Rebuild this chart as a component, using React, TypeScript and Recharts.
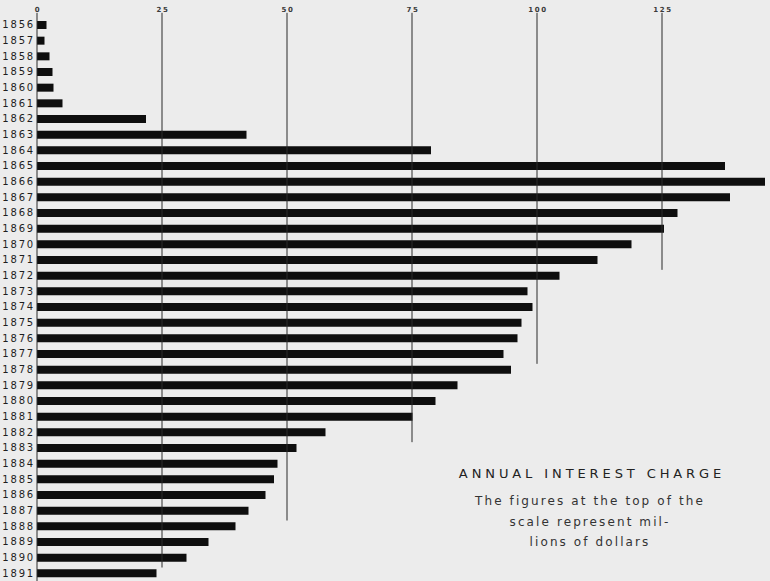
import React from 'react';
import { BarChart, Bar, XAxis, YAxis, ReferenceLine } from 'recharts';

const years = [
  '1856', '1857', '1858', '1859', '1860', '1861', '1862', '1863', '1864', '1865',
  '1866', '1867', '1868', '1869', '1870', '1871', '1872', '1873', '1874', '1875',
  '1876', '1877', '1878', '1879', '1880', '1881', '1882', '1883', '1884', '1885',
  '1886', '1887', '1888', '1889', '1890', '1891',
];
const interestCharge = [
  1.9, 1.5, 2.5, 3.1, 3.3, 5.1, 21.8, 41.9, 78.8, 137.6,
  145.6, 138.6, 128.1, 125.4, 118.9, 112.1, 104.5, 98.1, 99.1, 96.9,
  96.1, 93.3, 94.8, 84.1, 79.7, 75.1, 57.7, 51.9, 48.1, 47.4,
  45.7, 42.3, 39.7, 34.3, 29.9, 23.9,
];
const scaleTicks = [0, 25, 50, 75, 100, 125];
const scaleLineValues = [0, 25, 50, 75, 100, 125];
const scaleLineEnds = ['1891', '1890', '1887', '1882', '1877', '1871'];
const titleText = 'ANNUAL INTEREST CHARGE';
const noteLines = ['The figures at the top of the', 'scale represent mil-', 'lions of dollars'];

const data = years.map((y, i) => ({ year: y, value: interestCharge[i] }));

const XTick = (props: any) => {
  const { x, payload } = props;
  return (
    <text
      x={x + 1}
      y={12}
      textAnchor="middle"
      fontSize={7}
      fontFamily="DejaVu Sans"
      fontWeight="bold"
      letterSpacing={1.6}
      fill="#3a3a3a"
    >
      {payload.value}
    </text>
  );
};

const YTick = (props: any) => {
  const { y, payload } = props;
  return (
    <text
      x={35}
      y={y + 3.6}
      textAnchor="end"
      fontSize={10}
      fontFamily="DejaVu Sans"
      letterSpacing={1.8}
      fill="#1e1e1e"
    >
      {payload.value}
    </text>
  );
};

const makeLineShape = (isZero: boolean) => (props: any) => {
  const { x1, y1, x2, y2 } = props;
  return (
    <line
      x1={x1}
      y1={y1 - (isZero ? 12 : 12)}
      x2={x2}
      y2={y2 + (isZero ? 8 : 10)}
      stroke="#2a2a2a"
      strokeWidth={1}
    />
  );
};

export default function App() {
  return (
    <div
      style={{
        position: 'absolute',
        left: 0,
        top: 0,
        width: 770,
        height: 581,
        background: '#ececec',
        overflow: 'hidden',
      }}
    >
      <BarChart
        width={770}
        height={581}
        data={data}
        layout="vertical"
        margin={{ top: 0, right: 3, left: 0, bottom: 0 }}
      >
        <XAxis
          type="number"
          orientation="top"
          domain={[0, 146]}
          ticks={scaleTicks}
          height={17}
          axisLine={false}
          tickLine={false}
          tick={<XTick />}
          interval={0}
        />
        <YAxis
          type="category"
          dataKey="year"
          width={37}
          axisLine={false}
          tickLine={false}
          tick={<YTick />}
          interval={0}
        />
        {scaleLineValues.map((v, i) => (
          <ReferenceLine
            key={v}
            segment={[
              { x: v, y: years[0] },
              { x: v, y: scaleLineEnds[i] },
            ]}
            ifOverflow="visible"
            shape={makeLineShape(v === 0)}
          />
        ))}
        <Bar dataKey="value" fill="#0e0e0e" barSize={8} isAnimationActive={false} />
      </BarChart>
      <svg
        width={770}
        height={581}
        style={{ position: 'absolute', left: 0, top: 0, pointerEvents: 'none' }}
      >
        <text
          x={592}
          y={478}
          textAnchor="middle"
          fontSize={13}
          fontFamily="DejaVu Sans"
          letterSpacing={3.9}
          fill="#222"
        >
          {titleText}
        </text>
        {noteLines.map((t, i) => (
          <text
            key={i}
            x={590}
            y={505 + i * 20.5}
            textAnchor="middle"
            fontSize={12}
            fontFamily="DejaVu Sans"
            letterSpacing={2.1}
            fill="#333"
          >
            {t}
          </text>
        ))}
      </svg>
    </div>
  );
}
